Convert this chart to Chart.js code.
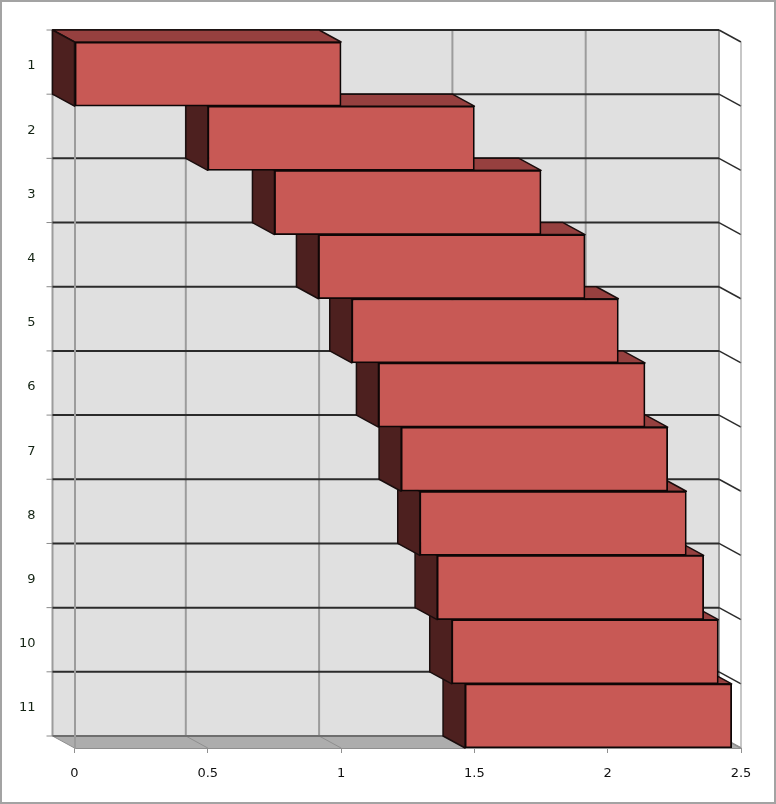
<!DOCTYPE html>
<html>
<head>
<meta charset="utf-8">
<title>3D floating bars</title>
<script src="https://cdn.jsdelivr.net/npm/chart.js@4"></script>
<style>
    html, body { margin: 0; padding: 0; background: #fff; }
    canvas { display: block; }
</style>
</head>
<body>
<div style="width:776px;height:804px"><canvas id="myChart" width="776" height="804"></canvas></div>
<script>
const categories = ['1', '2', '3', '4', '5', '6', '7', '8', '9', '10', '11'];
const barStarts = [0, 0.5, 0.75, 0.915, 1.04, 1.14, 1.225, 1.295, 1.36, 1.415, 1.465];
const barEnds = [1, 1.5, 1.75, 1.915, 2.04, 2.14, 2.225, 2.295, 2.36, 2.415, 2.465];
const xTicks = [0, 0.5, 1, 1.5, 2, 2.5];

// how far the back wall sits from the front plane
const depthX = -22;
const depthY = -12;

function polygon(ctx, pts, fill, stroke, width) {
    ctx.beginPath();
    pts.forEach((p, i) => (i ? ctx.lineTo(p[0], p[1]) : ctx.moveTo(p[0], p[1])));
    ctx.closePath();
    if (fill) {
        ctx.fillStyle = fill;
        ctx.fill();
    }
    if (stroke) {
        ctx.strokeStyle = stroke;
        ctx.lineWidth = width;
        ctx.stroke();
    }
}

function line(ctx, x1, y1, x2, y2, color, width) {
    ctx.beginPath();
    ctx.moveTo(x1, y1);
    ctx.lineTo(x2, y2);
    ctx.strokeStyle = color;
    ctx.lineWidth = width;
    ctx.stroke();
}

const box3d = {
    id: 'box3d',
    // walls and floor go under the axes
    beforeDraw(chart) {
        const { ctx, scales: { x, y } } = chart;
        const band = (y.bottom - y.top) / categories.length;
        const left = x.left, right = x.right, top = y.top, bottom = y.bottom;

        ctx.save();
        ctx.fillStyle = '#ffffff';
        ctx.fillRect(0, 0, chart.width, chart.height);

        ctx.fillStyle = '#e0e0e0';
        ctx.fillRect(left + depthX, top + depthY, right - left, bottom - top);

        polygon(ctx, [
            [left + depthX, bottom + depthY],
            [right + depthX, bottom + depthY],
            [right, bottom],
            [left, bottom]
        ], '#adadad');

        xTicks.forEach((v) => {
            const px = x.getPixelForValue(v);
            line(ctx, px + depthX, top + depthY, px + depthX, bottom + depthY, '#9c9c9c', 2);
            line(ctx, px + depthX, bottom + depthY, px, bottom, '#8f8f8f', 1);
        });

        for (let i = 0; i <= categories.length; i++) {
            const py = top + band * i + depthY;
            const dark = i === categories.length ? '#6e6e6e' : '#2b2b2b';
            line(ctx, left + depthX - 6, py, left + depthX, py, '#8a8a8a', 1);
            line(ctx, left + depthX, py, right + depthX, py, dark, 2);
            line(ctx, right + depthX, py, right, py - depthY, i === categories.length ? '#8f8f8f' : '#2b2b2b', 1.5);
        }

        line(ctx, right, top, right, bottom, '#8f8f8f', 1);
        ctx.restore();
    },
    // top and left faces of the bars, the library paints the front faces over them
    beforeDatasetsDraw(chart) {
        const { ctx, scales: { x, y } } = chart;
        const band = (y.bottom - y.top) / categories.length;

        ctx.save();
        ctx.lineJoin = 'round';
        for (let i = categories.length - 1; i >= 0; i--) {
            const xs = x.getPixelForValue(barStarts[i]);
            const xe = x.getPixelForValue(barEnds[i]);
            const yt = y.getPixelForValue(i) - band / 2;
            const yb = yt + band;
            polygon(ctx, [
                [xs + depthX, yt + depthY],
                [xe + depthX, yt + depthY],
                [xe, yt],
                [xs, yt]
            ], '#96403f', '#1a0d0d', 1.5);
            polygon(ctx, [
                [xs + depthX, yt + depthY],
                [xs, yt],
                [xs, yb],
                [xs + depthX, yb + depthY]
            ], '#4d201f', '#1a0d0d', 1.5);
        }
        ctx.restore();
    },
    // picture frame
    afterDraw(chart) {
        const { ctx } = chart;
        ctx.save();
        ctx.strokeStyle = '#a3a3a3';
        ctx.lineWidth = 2;
        ctx.strokeRect(1, 1, chart.width - 2, chart.height - 2);
        ctx.restore();
    }
};

const ctx = document.getElementById('myChart').getContext('2d');
const myChart = new Chart(ctx, {
    type: 'bar',
    data: {
        labels: categories,
        datasets: [{
            data: barStarts.map((s, i) => [s, barEnds[i]]),
            backgroundColor: '#c85955',
            borderColor: '#0d0606',
            borderWidth: 1.75,
            borderSkipped: false,
            barPercentage: 1,
            categoryPercentage: 1
        }]
    },
    options: {
        indexAxis: 'y',
        responsive: false,
        animation: false,
        layout: { padding: { top: 42, right: 35, left: 0, bottom: 0 } },
        plugins: {
            legend: { display: false },
            title: { display: false },
            tooltip: { enabled: false }
        },
        scales: {
            x: {
                type: 'linear',
                min: 0,
                max: 2.5,
                afterFit: (scale) => { scale.height = 56; scale.paddingRight = 0; scale.paddingLeft = 0; },
                afterBuildTicks: (scale) => { scale.ticks = xTicks.map((v) => ({ value: v })); },
                grid: { drawOnChartArea: false, drawTicks: true, tickLength: 5, color: '#8f8f8f', lineWidth: 1 },
                border: { display: true, color: '#8f8f8f', width: 1 },
                ticks: {
                    maxRotation: 0,
                    padding: 13,
                    color: '#111111',
                    font: { family: 'DejaVu Sans', size: 13 },
                    callback: (v) => String(v)
                }
            },
            y: {
                type: 'category',
                afterFit: (scale) => { scale.width = 74.5; scale.paddingTop = 0; scale.paddingBottom = 0; },
                grid: { drawOnChartArea: false, drawTicks: false },
                border: { display: true, color: '#9c9c9c', width: 2 },
                ticks: {
                    padding: 39,
                    labelOffset: -8,
                    color: '#142414',
                    font: { family: 'DejaVu Sans', size: 13 }
                }
            }
        }
    },
    plugins: [box3d]
});
</script>
</body>
</html>
